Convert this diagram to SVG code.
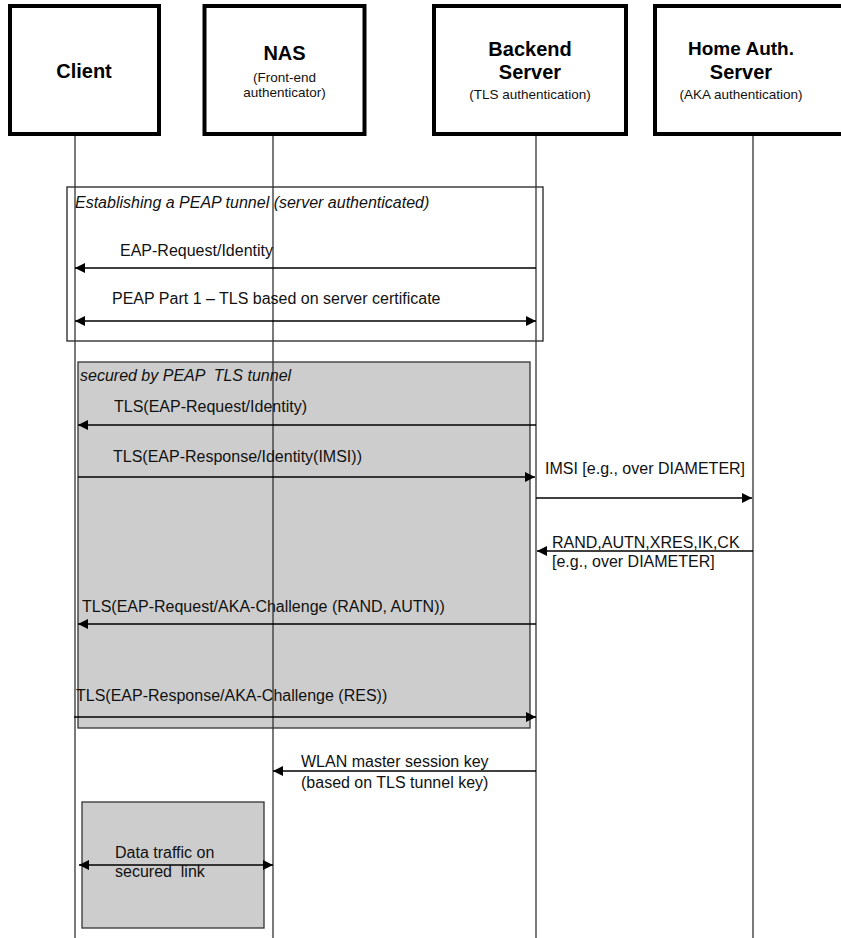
<svg xmlns="http://www.w3.org/2000/svg" width="841" height="938" viewBox="0 0 841 938">
<style>
.box{fill:#fff;stroke:#000;stroke-width:4}
.life{stroke:#333;stroke-width:1.3;fill:none}
.frame{fill:none;stroke:#222;stroke-width:1.3}
.shade{fill:#cdcdcd;stroke:#333;stroke-width:1.3}
.msg{stroke:#000;stroke-width:1.3;fill:none}
.t{font-family:"Liberation Sans",Arial,sans-serif;font-size:16px;fill:#111}
.it{font-style:italic}
.title{font-family:"Liberation Sans",Arial,sans-serif;font-size:20px;font-weight:bold;fill:#000;text-anchor:middle}
.sub{font-family:"Liberation Sans",Arial,sans-serif;font-size:13.5px;fill:#111;text-anchor:middle}
</style>
<defs>
<marker id="ah" viewBox="0 0 10 10" refX="10" refY="5" markerWidth="10" markerHeight="10" markerUnits="userSpaceOnUse" orient="auto-start-reverse">
<path d="M0,0 L10,5 L0,10 z" fill="#000"/>
</marker>
</defs>
<rect width="841" height="938" fill="#fff"/>

<g id="frames">
<rect class="frame" x="67" y="187" width="476" height="154"/>
<rect class="shade" x="78" y="362" width="452" height="366"/>
<rect class="shade" x="82" y="802" width="182" height="126"/>
</g>

<g id="lifelines">
<line class="life" x1="75" y1="136" x2="75" y2="938"/>
<line class="life" x1="273" y1="136" x2="273" y2="938"/>
<line class="life" x1="536" y1="136" x2="536" y2="938"/>
<line class="life" x1="753" y1="136" x2="753" y2="938"/>
</g>

<g id="client">
<rect class="box" x="10" y="6" width="149" height="128"/>
<text class="title" x="84" y="78">Client</text>
</g>
<g id="nas">
<rect class="box" x="204.5" y="6" width="160" height="128"/>
<text class="title" x="284.5" y="60">NAS</text>
<text class="sub" x="284.5" y="82">(Front-end</text>
<text class="sub" x="284.5" y="97">authenticator)</text>
</g>
<g id="backend">
<rect class="box" x="434" y="6" width="192" height="128"/>
<text class="title" x="530" y="56">Backend</text>
<text class="title" x="530" y="79">Server</text>
<text class="sub" x="530" y="99">(TLS authentication)</text>
</g>
<g id="home">
<rect class="box" x="655" y="6" width="200" height="128"/>
<text class="title" x="741" y="55" style="font-size:19px">Home Auth.</text>
<text class="title" x="741" y="79">Server</text>
<text class="sub" x="741" y="99">(AKA authentication)</text>
</g>

<g id="connectors">
<line class="msg" x1="536" y1="268" x2="75" y2="268" marker-end="url(#ah)"/>
<line class="msg" x1="75" y1="321" x2="536" y2="321" marker-start="url(#ah)" marker-end="url(#ah)"/>
<line class="msg" x1="536" y1="425" x2="78" y2="425" marker-end="url(#ah)"/>
<line class="msg" x1="78" y1="477" x2="535" y2="477" marker-end="url(#ah)"/>
<line class="msg" x1="536" y1="498" x2="752" y2="498" marker-end="url(#ah)"/>
<line class="msg" x1="753" y1="551" x2="537" y2="551" marker-end="url(#ah)"/>
<line class="msg" x1="536" y1="624" x2="78" y2="624" marker-end="url(#ah)"/>
<line class="msg" x1="74" y1="717" x2="536" y2="717" marker-end="url(#ah)"/>
<line class="msg" x1="536" y1="771" x2="273" y2="771" marker-end="url(#ah)"/>
<line class="msg" x1="79" y1="865" x2="273" y2="865" marker-start="url(#ah)" marker-end="url(#ah)"/>
</g>

<g id="labels">
<text class="t it" x="75" y="208">Establishing a PEAP tunnel (server authenticated)</text>
<text class="t" x="120" y="256">EAP-Request/Identity</text>
<text class="t" x="112" y="304">PEAP Part 1 – TLS based on server certificate</text>
<text class="t it" x="80" y="381" xml:space="preserve">secured by PEAP  TLS tunnel</text>
<text class="t" x="114" y="412">TLS(EAP-Request/Identity)</text>
<text class="t" x="113" y="462">TLS(EAP-Response/Identity(IMSI))</text>
<text class="t" x="545" y="474">IMSI [e.g., over DIAMETER]</text>
<text class="t" x="552" y="548">RAND,AUTN,XRES,IK,CK</text>
<text class="t" x="552" y="567">[e.g., over DIAMETER]</text>
<text class="t" x="82" y="612">TLS(EAP-Request/AKA-Challenge (RAND, AUTN))</text>
<text class="t" x="76" y="701">TLS(EAP-Response/AKA-Challenge (RES))</text>
<text class="t" x="301" y="767">WLAN master session key</text>
<text class="t" x="301" y="788">(based on TLS tunnel key)</text>
<text class="t" x="115" y="858">Data traffic on</text>
<text class="t" x="115" y="877" xml:space="preserve">secured  link</text>
</g>
</svg>
